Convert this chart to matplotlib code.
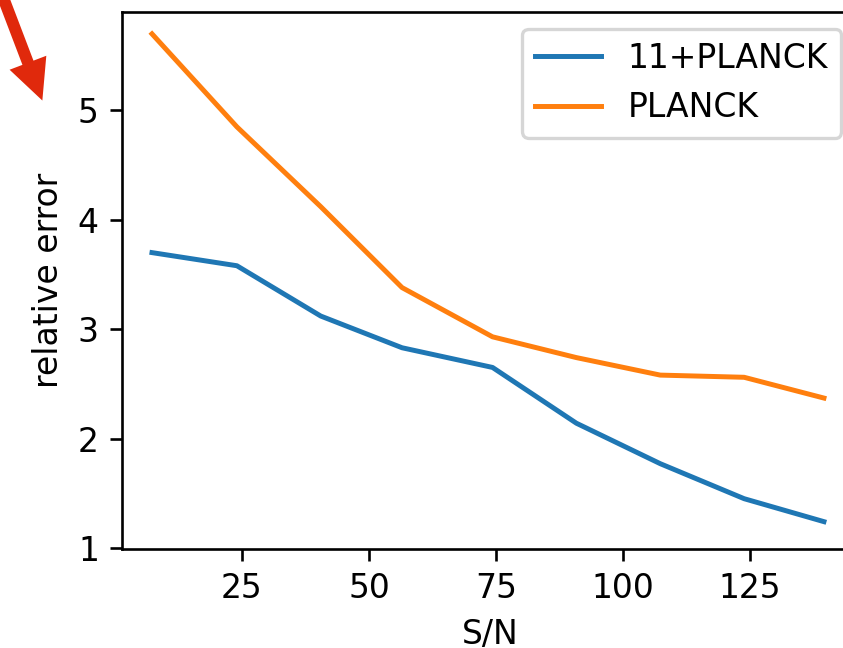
import matplotlib
matplotlib.use("Agg")
import matplotlib.pyplot as plt
from matplotlib.patches import FancyArrow

# signal to noise values
sn = [7.3, 24.0, 40.5, 56.5, 74.3, 90.8, 107.3, 123.8, 139.5]
err_11_planck = [3.70, 3.58, 3.12, 2.83, 2.65, 2.14, 1.77, 1.45, 1.24]
err_planck = [5.70, 4.85, 4.12, 3.38, 2.93, 2.74, 2.58, 2.56, 2.37]
labels = ["11+PLANCK", "PLANCK"]

W, H, DPI = 843, 648, 238
fig = plt.figure(figsize=(W / DPI, H / DPI), dpi=DPI)

# the reference is cropped on the right, so the axes run past the edge
ax = fig.add_axes([122 / W, 1 - 549 / H, (858 - 122) / W, (549 - 12) / H])
ax.plot(sn, err_11_planck, label=labels[0])
ax.plot(sn, err_planck, label=labels[1])
ax.set_xlim(1.4, 146.2)
ax.set_ylim(0.99, 5.9)
ax.set_xticks([25, 50, 75, 100, 125])
ax.set_yticks([1, 2, 3, 4, 5])
ax.set_xlabel("S/N")
ax.set_ylabel("relative error")
ax.legend(loc="upper right")

# red pointer arrow in the top left corner (pixel units -> inches)
px = 1 / DPI
arrow = FancyArrow(1 * px, (H + 8) * px, 40 * px, -105 * px,
                   width=8.5 * px, head_width=34 * px, head_length=35 * px,
                   length_includes_head=True, color="#e0290c",
                   transform=fig.dpi_scale_trans)
fig.add_artist(arrow)

fig.savefig("out.png", dpi=DPI)
